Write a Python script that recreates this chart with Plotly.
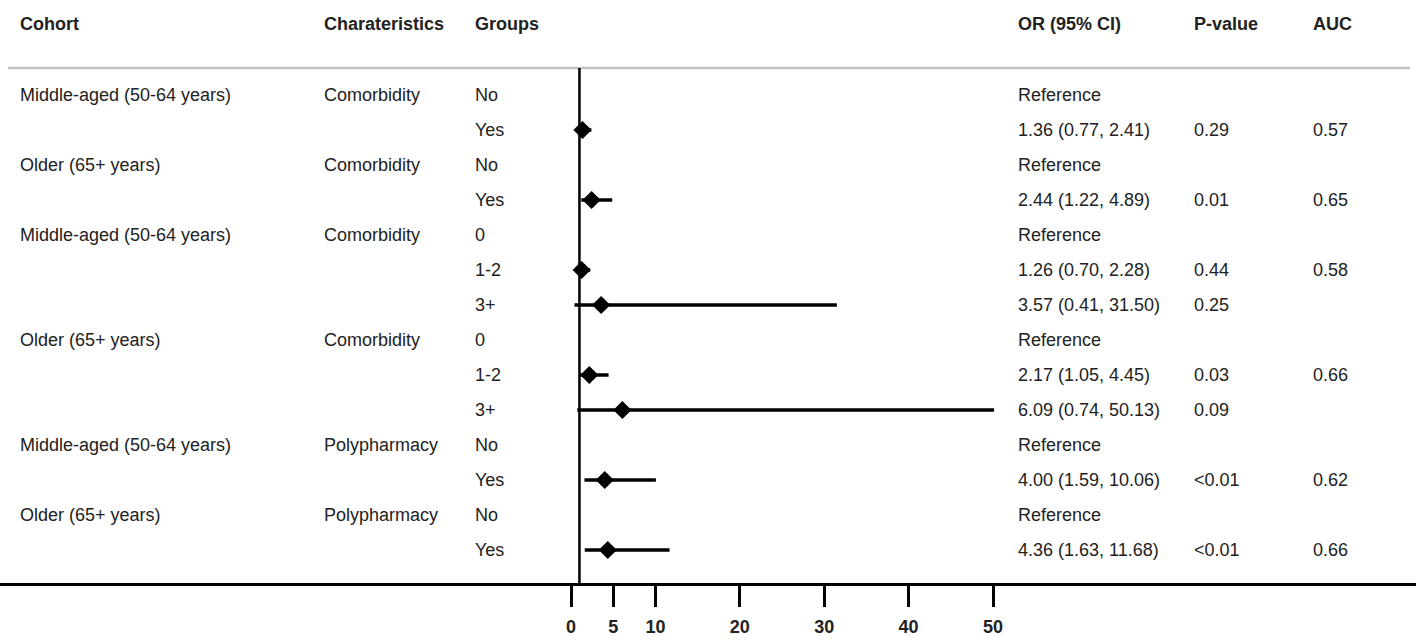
import plotly.graph_objects as go

# ---- data ----
cohort = ["Middle-aged (50-64 years)", "", "Older (65+ years)", "",
          "Middle-aged (50-64 years)", "", "", "Older (65+ years)", "", "",
          "Middle-aged (50-64 years)", "", "Older (65+ years)", ""]
characteristic = ["Comorbidity", "", "Comorbidity", "", "Comorbidity", "", "",
                  "Comorbidity", "", "", "Polypharmacy", "", "Polypharmacy", ""]
groups = ["No", "Yes", "No", "Yes", "0", "1-2", "3+", "0", "1-2", "3+",
          "No", "Yes", "No", "Yes"]
or_text = ["Reference", "1.36 (0.77, 2.41)", "Reference", "2.44 (1.22, 4.89)",
           "Reference", "1.26 (0.70, 2.28)", "3.57 (0.41, 31.50)",
           "Reference", "2.17 (1.05, 4.45)", "6.09 (0.74, 50.13)",
           "Reference", "4.00 (1.59, 10.06)", "Reference", "4.36 (1.63, 11.68)"]
p_text = ["", "0.29", "", "0.01", "", "0.44", "0.25", "", "0.03", "0.09",
          "", "<0.01", "", "<0.01"]
auc_text = ["", "0.57", "", "0.65", "", "0.58", "", "", "0.66", "",
            "", "0.62", "", "0.66"]
or_val = [None, 1.36, None, 2.44, None, 1.26, 3.57, None, 2.17, 6.09,
          None, 4.00, None, 4.36]
ci_lo = [None, 0.77, None, 1.22, None, 0.70, 0.41, None, 1.05, 0.74,
         None, 1.59, None, 1.63]
ci_hi = [None, 2.41, None, 4.89, None, 2.28, 31.50, None, 4.45, 50.13,
         None, 10.06, None, 11.68]
headers = ["Cohort", "Charateristics", "Groups", "OR (95% CI)", "P-value", "AUC"]
tick_vals = [0, 5, 10, 20, 30, 40, 50]

# ---- layout constants ----
W, H = 1416, 642
FONT = "Liberation Sans, Arial, sans-serif"
TXT = "#222222"
col_x = [18, 322, 473, 1016, 1192, 1311]  # pixel left edges of text columns
row_idx = list(range(len(groups)))

rows = [(r, v, l, h) for r, v, l, h in zip(row_idx, or_val, ci_lo, ci_hi) if v is not None]
ry = [r[0] for r in rows]
rv = [r[1] for r in rows]
plus = [r[3] - r[1] for r in rows]
minus = [r[1] - r[2] for r in rows]

fig = go.Figure()
fig.add_trace(go.Scatter(
    x=rv, y=ry, mode="markers",
    marker=dict(symbol="diamond", size=14, color="black"),
    error_x=dict(type="data", array=plus, arrayminus=minus, symmetric=False,
                 thickness=3.5, width=0, color="black"),
    showlegend=False, hoverinfo="skip",
))

ann = []
def add_text(px, y, text, bold=False, yref="y"):
    ann.append(dict(x=px / W, xref="paper", y=y, yref=yref, text=f"<b>{text}</b>" if bold else text,
                    showarrow=False, xanchor="left", yanchor="middle",
                    font=dict(family=FONT, size=18, color=TXT)))

# headers
for px, h in zip(col_x, headers):
    add_text(px, -2.03, h, bold=True)

cols = [cohort, characteristic, groups, or_text, p_text, auc_text]
for px, col in zip(col_x, cols):
    for r, t in zip(row_idx, col):
        if t:
            add_text(px, r, t)

# pixel -> data mapping
x_px0, x_scale = 571, 8.44
y_px0, y_step = 95, 35
axis_px = 583

fig.update_layout(
    width=W, height=H,
    margin=dict(l=0, r=0, t=0, b=0),
    paper_bgcolor="white", plot_bgcolor="white",
    annotations=ann,
    xaxis=dict(range=[-x_px0 / x_scale, (W - x_px0) / x_scale],
               tickvals=tick_vals, ticktext=[f"<b>{v}</b>" for v in tick_vals],
               showline=True, linecolor="black", linewidth=2.5,
               ticks="outside", ticklen=21, tickwidth=2.5, tickcolor="black",
               ticklabelstandoff=5,
               showgrid=False, zeroline=False,
               tickfont=dict(family=FONT, size=18, color=TXT)),
    yaxis=dict(domain=[(H - axis_px) / H, 1],
               range=[(axis_px - y_px0) / y_step, -y_px0 / y_step],
               visible=False, showgrid=False, zeroline=False),
    shapes=[
        dict(type="line", xref="paper", yref="y", x0=8 / W, x1=1410 / W,
             y0=(68 - y_px0) / y_step, y1=(68 - y_px0) / y_step,
             line=dict(color="#bfbfbf", width=2.5)),
        dict(type="line", xref="x", yref="y", x0=1, x1=1,
             y0=(68 - y_px0) / y_step, y1=(axis_px - y_px0) / y_step,
             line=dict(color="black", width=2.5)),
    ],
)

fig.write_html("out.html", config={"displayModeBar": False},
               post_script="document.body.style.margin='0';")
